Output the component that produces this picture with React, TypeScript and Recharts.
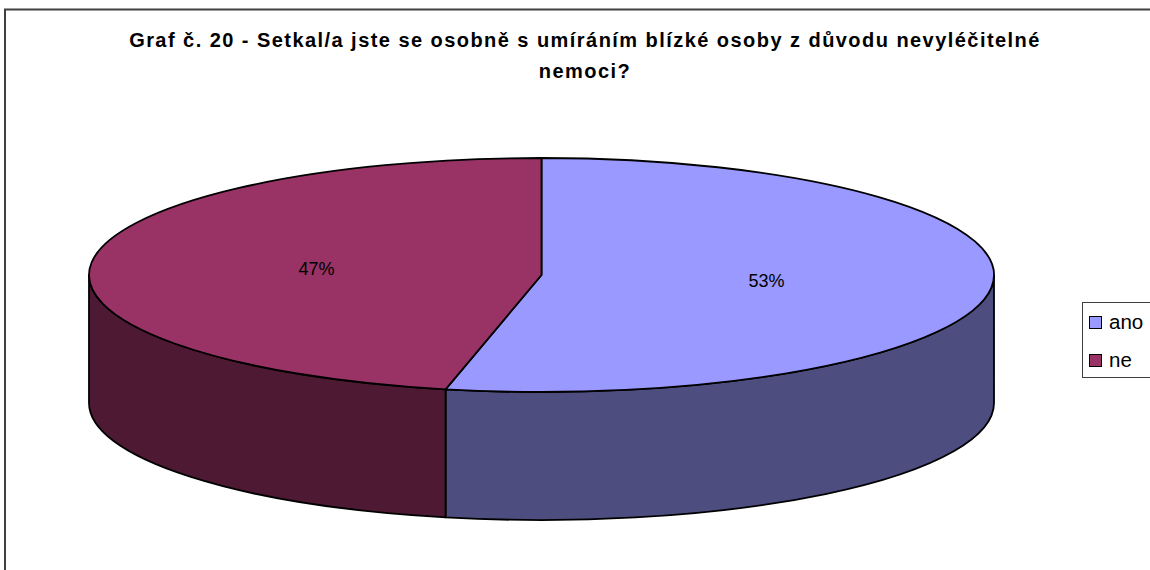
import React from "react";
import { PieChart, Pie, Cell, Legend } from "recharts";

const TITLE_LINES = [
  "Graf č. 20 - Setkal/a jste se osobně s umíráním blízké osoby z důvodu nevyléčitelné",
  "nemoci?",
];
const CATEGORIES = ["ano", "ne"];
const VALUES = [53.4, 46.6];
const TOP_COLORS = ["#9999FF", "#993366"];
const SIDE_COLORS = ["#4D4D80", "#4D1933"];

const data = CATEGORIES.map((name, i) => ({ name, value: VALUES[i] }));

const RY_RATIO = 117 / 452.5;
const DEPTH_RATIO = 128 / 452.5;
const RAD = Math.PI / 180;
const FONT = "'Liberation Sans', Arial, sans-serif";

function Slice(props: any) {
  const { cx, cy, outerRadius, startAngle, endAngle } = props;
  const name = props?.payload?.name ?? props?.name;
  let idx = CATEGORIES.indexOf(name);
  if (idx < 0) idx = TOP_COLORS.indexOf(props.fill);
  if (idx < 0) idx = 0;
  const rx = outerRadius;
  const ry = outerRadius * RY_RATIO;
  const depth = outerRadius * DEPTH_RATIO;
  const pt = (a: number, dy = 0) => [cx + rx * Math.cos(a * RAD), cy - ry * Math.sin(a * RAD) + dy];

  const span = Math.abs(endAngle - startAngle);
  const s = pt(startAngle);
  const e = pt(endAngle);
  const sweep = endAngle < startAngle ? 1 : 0;
  const large = span > 180 ? 1 : 0;
  const topPath = `M${cx},${cy} L${s[0]},${s[1]} A${rx},${ry} 0 ${large} ${sweep} ${e[0]},${e[1]} Z`;

  const lo = Math.min(startAngle, endAngle);
  const hi = Math.max(startAngle, endAngle);
  const sides: string[] = [];
  for (let k = -2; k <= 2; k++) {
    const fLo = -180 + 360 * k;
    const fHi = 0 + 360 * k;
    const a = Math.min(hi, fHi);
    const b = Math.max(lo, fLo);
    if (a - b > 0.01) {
      const p1 = pt(a);
      const p2 = pt(b);
      const p3 = pt(b, depth);
      const p4 = pt(a, depth);
      sides.push(
        `M${p1[0]},${p1[1]} A${rx},${ry} 0 0 1 ${p2[0]},${p2[1]} L${p3[0]},${p3[1]} A${rx},${ry} 0 0 0 ${p4[0]},${p4[1]} Z`
      );
    }
  }
  return (
    <g>
      {sides.map((d, i) => (
        <path key={i} d={d} fill={SIDE_COLORS[idx]} stroke="#000" strokeWidth={1.8} strokeLinejoin="round" />
      ))}
      <path d={topPath} fill={TOP_COLORS[idx]} stroke="#000" strokeWidth={1.8} strokeLinejoin="round" />
    </g>
  );
}

function renderLabel(props: any) {
  const { cx, cy, midAngle, outerRadius, percent } = props;
  const k = 0.5;
  const x = cx + k * outerRadius * Math.cos(midAngle * RAD);
  const y = cy - k * outerRadius * RY_RATIO * Math.sin(midAngle * RAD);
  return (
    <text x={x} y={y} textAnchor="middle" dominantBaseline="central" fontFamily={FONT} fontSize={18} fill="#000">
      {`${Math.round(percent * 100)}%`}
    </text>
  );
}

function renderLegend(props: any) {
  const payload = props?.payload ?? [];
  const items = payload.length
    ? payload.map((p: any, i: number) => ({ label: p.value ?? CATEGORIES[i], color: p.color ?? TOP_COLORS[i] }))
    : CATEGORIES.map((c, i) => ({ label: c, color: TOP_COLORS[i] }));
  return (
    <div
      style={{
        width: 90,
        height: 76,
        border: "1px solid #404040",
        boxSizing: "border-box",
        background: "#fff",
        position: "relative",
        fontFamily: FONT,
        fontSize: 20.5,
      }}
    >
      {items.map((it: any, i: number) => (
        <div key={i} style={{ position: "absolute", left: 6, top: 8 + i * 38, height: 22, display: "flex", alignItems: "center" }}>
          <span
            style={{
              display: "inline-block",
              width: 11,
              height: 11,
              background: it.color,
              border: "1.5px solid #000",
              marginRight: 7,
            }}
          />
          <span style={{ lineHeight: "22px" }}>{it.label}</span>
        </div>
      ))}
    </div>
  );
}

export default function App() {
  return (
    <div
      style={{
        position: "absolute",
        left: 0,
        top: 0,
        width: 1150,
        height: 570,
        overflow: "hidden",
        background: "#fff",
      }}
    >
      <svg width={1150} height={570} style={{ position: "absolute", left: 0, top: 0 }}>
        <rect x={5} y={9.5} width={1200} height={700} fill="none" stroke="#404040" strokeWidth={2} />
        {TITLE_LINES.map((t, i) => (
          <text
            key={i}
            x={585}
            y={47 + i * 31}
            textAnchor="middle"
            fontFamily={FONT}
            fontWeight="bold"
            fontSize={20}
            letterSpacing={1.45}
            fill="#000"
          >
            {t}
          </text>
        ))}
      </svg>
      <div style={{ position: "absolute", left: 0, top: 0 }}>
        <PieChart width={1150} height={570} margin={{ top: 0, right: 0, bottom: 0, left: 0 }}>
          <Pie
            data={data}
            dataKey="value"
            nameKey="name"
            cx={541.5}
            cy={275}
            outerRadius={452.5}
            startAngle={90}
            endAngle={-270}
            stroke="none"
            shape={Slice}
            activeShape={Slice}
            inactiveShape={Slice}
            label={renderLabel}
            labelLine={false}
            isAnimationActive={false}
          >
            {data.map((d, i) => (
              <Cell key={d.name} fill={TOP_COLORS[i]} />
            ))}
          </Pie>
          <Legend
            content={renderLegend}
            wrapperStyle={{ position: "absolute", left: 1082, top: 302, width: 90, height: 76, bottom: "auto", right: "auto" }}
          />
        </PieChart>
      </div>
    </div>
  );
}
